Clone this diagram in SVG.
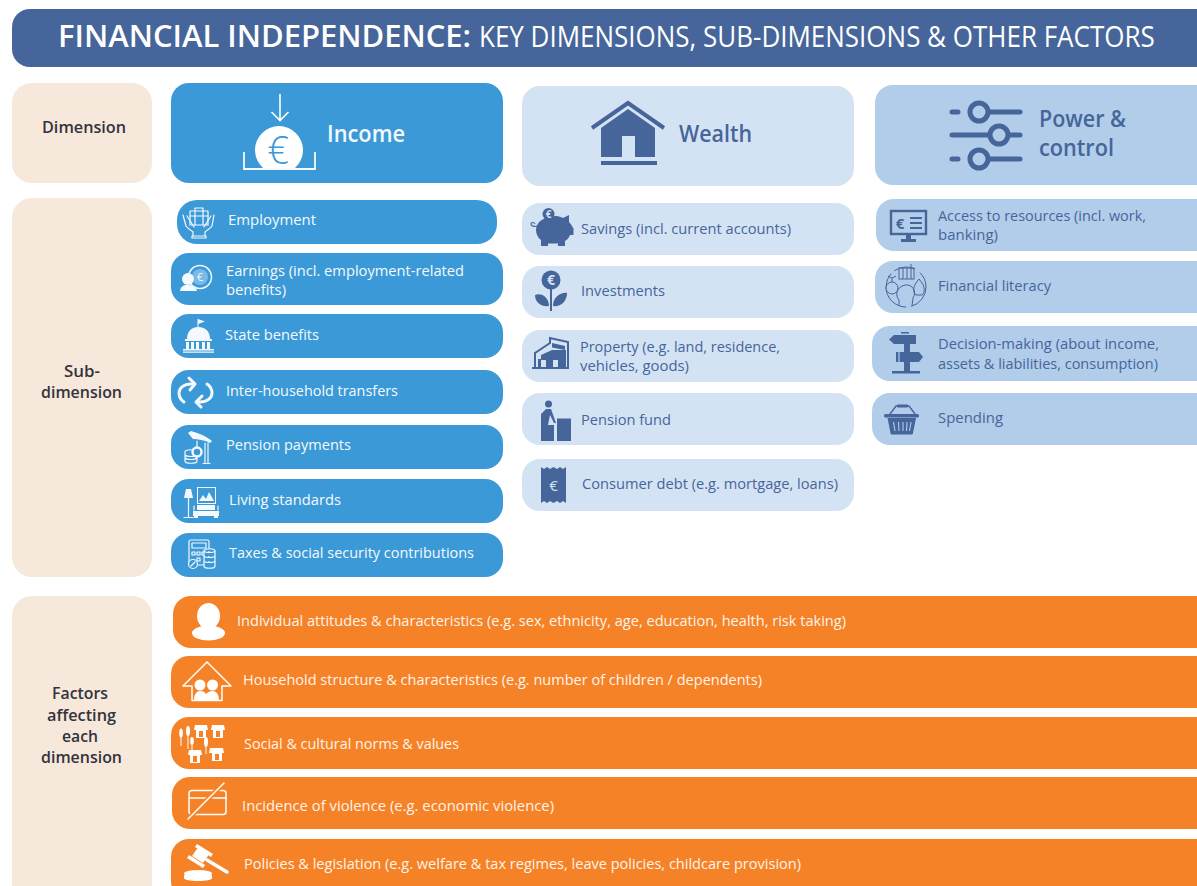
<svg xmlns="http://www.w3.org/2000/svg" width="1197" height="886" viewBox="0 0 1197 886">
<style>
text{font-family:"Open Sans","Noto Sans","Liberation Sans",sans-serif}
.b{font-size:14.5px;font-weight:500}
.w{fill:#f4f9fd}
.d{fill:#46659a}
.k{fill:#33333d;font-size:15.5px;font-weight:600}
.h{font-size:22.5px;font-weight:600}
.o{fill:#fff4ea;font-size:14.5px;font-weight:500}
.inc{fill:#3b99d7}.wea{fill:#d4e3f4}.pow{fill:#b1cdea}.bei{fill:#f6e8da}.org{fill:#f58227}
.sw{fill:none;stroke:#f4f9fd;stroke-width:1.200;stroke-linecap:round;stroke-linejoin:round}
.sf{fill:#f4f9fd;stroke:none}
.df{fill:#46659a;stroke:none}
.ow{fill:none;stroke:#fff;stroke-width:1.500;stroke-linejoin:round;stroke-linecap:round}
.of{fill:#fff;stroke:none}
</style>
<rect width="1197" height="886" fill="#fff"/>
<g id="title">
<rect x="12" y="9" width="1225" height="58" rx="18" fill="#46659a"/>
<text transform="translate(58 47) scale(.9 1)" fill="#fff" font-size="30px" font-weight="600" textLength="459" lengthAdjust="spacingAndGlyphs">FINANCIAL INDEPENDENCE:</text>
<text transform="translate(479 47) scale(.82 1)" fill="#fff" font-size="29px" textLength="824" lengthAdjust="spacingAndGlyphs">KEY DIMENSIONS, SUB-DIMENSIONS &amp; OTHER FACTORS</text>
</g>
<g id="row-dimension"><rect class="bei" x="12" y="83" width="140" height="100" rx="20"/><text class="k" x="42" y="133" textLength="84" lengthAdjust="spacingAndGlyphs">Dimension</text></g>
<g id="row-subdimension"><rect class="bei" x="12" y="198" width="140" height="379" rx="20"/><text class="k" x="64" y="377" textLength="36" lengthAdjust="spacingAndGlyphs">Sub-</text><text class="k" x="41" y="398" textLength="81" lengthAdjust="spacingAndGlyphs">dimension</text></g>
<g id="row-factors"><rect class="bei" x="12" y="596" width="140" height="310" rx="20"/><text class="k" x="52" y="699" textLength="56" lengthAdjust="spacingAndGlyphs">Factors</text><text class="k" x="47" y="721" textLength="69" lengthAdjust="spacingAndGlyphs">affecting</text><text class="k" x="62" y="742" textLength="36" lengthAdjust="spacingAndGlyphs">each</text><text class="k" x="41" y="763" textLength="81" lengthAdjust="spacingAndGlyphs">dimension</text></g>

<g id="income"><rect class="inc" x="171" y="83" width="332" height="100" rx="18"/>
<path d="M280 94V120M271.500 112L280 120.500L288.500 112" fill="none" stroke="#fff" stroke-width="1.600"/>
<path d="M263 168A24 24 0 1 1 295 168Z" fill="#fff"/>
<text x="278" y="164" fill="#3b99d7" font-size="38px" font-weight="300" text-anchor="middle">€</text>
<path d="M244 152V169H315V152" fill="none" stroke="#f4f9fd" stroke-width="1.800"/>
<text class="w h" x="327" y="142" textLength="78" lengthAdjust="spacingAndGlyphs">Income</text></g>

<g id="employment"><rect class="inc" x="177" y="200" width="320" height="44" rx="20"/>
<g class="sw"><rect x="190" y="211" width="18" height="14"/><path d="M195 211V208H203V211M190 216H208M195 211V225M203 211V225"/><path d="M183 215L186 226C188 229 191 230 193 232V236M214 215L212 226C210 229 207 230 205 232V236M187 216L194 227M211 216L204 227M192 236H206V238H192Z"/></g>
<text class="w b" x="228" y="225" textLength="88" lengthAdjust="spacingAndGlyphs">Employment</text></g>

<g id="earnings"><rect class="inc" x="171" y="253" width="332" height="52" rx="18"/>
<circle cx="200" cy="277" r="11.500" fill="none" stroke="#f4f9fd" stroke-width="1.500"/><circle cx="200" cy="277" r="8" fill="#f4f9fd" fill-opacity=".35"/>
<text x="200" y="281" fill="#f4f9fd" font-size="11px" text-anchor="middle">€</text>
<circle cx="188" cy="279" r="6" class="sf"/><path d="M180 291C181 285 185 285 188 285C192 285 196 286 197 291Z" class="sf"/>
<text class="w b" x="226" y="276" textLength="238" lengthAdjust="spacingAndGlyphs">Earnings (incl. employment-related</text>
<text class="w b" x="226" y="295" textLength="60" lengthAdjust="spacingAndGlyphs">benefits)</text></g>

<g id="state-benefits"><rect class="inc" x="171" y="314" width="332" height="44" rx="18"/>
<path d="M198 319V328" stroke="#f4f9fd" stroke-width="1"/><path d="M198 319L205 321.500L198 324Z" class="sf"/>
<path d="M187 339C187 331 192 327 198 327C205 327 210 331 210 339Z" class="sf"/>
<path d="M185 339H212V341H185ZM186 342H189V349H186ZM191 342H194V349H191ZM196 342H199V349H196ZM202 342H205V349H202ZM207 342H210V349H207ZM183 349H214V350.500H183ZM183 351.500H214V352.800H183Z" class="sf"/>
<text class="w b" x="225" y="340" textLength="94" lengthAdjust="spacingAndGlyphs">State benefits</text></g>

<g id="inter-household"><rect class="inc" x="171" y="370" width="332" height="44" rx="18"/>
<g fill="none" stroke="#f4f9fd" stroke-width="3" stroke-linecap="round" stroke-linejoin="round"><path d="M194 384H191C184 384 179 388 179 393C179 397 181 400 184 402"/><path d="M189 378L195 384L190 390"/><path d="M197 402H200C207 402 212 398 212 393C212 389 210 386 207 384"/><path d="M202 396L196 402L201 407"/></g>
<text class="w b" x="226" y="395.500" textLength="172" lengthAdjust="spacingAndGlyphs">Inter-household transfers</text></g>

<g id="pension-payments"><rect class="inc" x="171" y="425" width="332" height="44" rx="18"/>
<path d="M188 433L191 431C197 433 205 435 212 441L210 443C204 440 198 439 193 439Z" class="sf"/>
<g class="sw"><path d="M205 443V463M208 443V463M203 463.500H210"/><path d="M185 452C185 449 197 449 197 452V461C197 464 185 464 185 461ZM185 455C187 457 195 457 197 455M185 458C187 460 195 460 197 458"/><circle cx="197" cy="452" r="4.500" stroke-width="2.400" fill="#3b99d7"/><path d="M197 441V447"/></g>
<text class="w b" x="226" y="450" textLength="125" lengthAdjust="spacingAndGlyphs">Pension payments</text></g>

<g id="living-standards"><rect class="inc" x="171" y="479" width="332" height="44" rx="18"/>
<path d="M186 489H191L193 498H184Z" class="sf"/><path d="M188.500 498V517M184 517.500H193" class="sw"/>
<rect x="197.500" y="487.500" width="18" height="16" fill="none" stroke="#f4f9fd" stroke-width="1"/><path d="M199 501L203 495L206 499L209 492L214 501Z" class="sf"/>
<path d="M197 505H215V510H197ZM193 511H219V516H193ZM194 516H198V518H194ZM214 516H218V518H214Z" class="sf"/><path d="M194 510V506M218 510V506" class="sw"/>
<text class="w b" x="229" y="505" textLength="112" lengthAdjust="spacingAndGlyphs">Living standards</text></g>

<g id="taxes"><rect class="inc" x="171" y="533" width="332" height="44" rx="18"/>
<g class="sw" stroke-width="1"><rect x="189" y="540" width="20" height="25" rx="1.500"/><rect x="192" y="543" width="14" height="5"/><path d="M192 552H195V555H192ZM197 552H200V555H197ZM202 552H205V555H202ZM197 558H200V561H197Z"/><circle cx="193" cy="564" r="4.500" fill="#3b99d7"/><path d="M191 566L195 562"/><path d="M204 551C204 548 215 548 215 551V566C215 569 204 569 204 566ZM204 551C205 553 214 553 215 551M204 556C205 558 214 558 215 556M204 561C205 563 214 563 215 561" fill="#3b99d7"/></g>
<text class="w b" x="229" y="558" textLength="245" lengthAdjust="spacingAndGlyphs">Taxes &amp; social security contributions</text></g>

<g id="wealth"><rect class="wea" x="522" y="86" width="332" height="100" rx="18"/>
<path d="M592 128L628 103L664 128" fill="none" stroke="#46659a" stroke-width="4"/>
<path fill-rule="evenodd" d="M601 128L628 109L655 128V157H635V136H622V157H601Z" class="df"/>
<rect x="601" y="161" width="56" height="4" class="df"/>
<text class="d h" x="679" y="142" textLength="73" lengthAdjust="spacingAndGlyphs">Wealth</text></g>

<g id="savings"><rect class="wea" x="522" y="203" width="332" height="52" rx="18"/>
<path d="M536 230C536 221 546 216 556 216C559 216 561 217 563 218L569 215V222C571 224 572 226 573 228H573.500V235H570C569 238 567 240 565 241V246H558V243.500H548V246H541V240C538 238 536 234 536 230Z" class="df"/>
<circle cx="548.500" cy="214" r="6" class="df"/><text x="548.500" y="218" fill="#d4e3f4" font-size="10px" font-weight="700" text-anchor="middle">€</text>
<path d="M537 226C534 227 531 226 531 224C531 222 534 222 535 224" fill="none" stroke="#46659a" stroke-width="1.200"/>
<text class="d b" x="581" y="233.500" textLength="210" lengthAdjust="spacingAndGlyphs">Savings (incl. current accounts)</text></g>

<g id="investments"><rect class="wea" x="522" y="266" width="332" height="52" rx="18"/>
<circle cx="551" cy="280" r="9.500" class="df"/><text x="551" y="285" fill="#d4e3f4" font-size="14px" font-weight="700" text-anchor="middle">€</text>
<path d="M551 289V311" stroke="#46659a" stroke-width="2"/>
<path d="M535 295C541 292 549 297 549 306C542 307 535 303 535 295ZM567 293C561 292 553 297 553 306C560 307 567 302 567 293Z" class="df"/>
<text class="d b" x="581" y="296" textLength="84" lengthAdjust="spacingAndGlyphs">Investments</text></g>

<g id="property"><rect class="wea" x="522" y="330" width="332" height="52" rx="18"/>
<path d="M532 368H569M535 368V353L550 343V338L568 342V368" fill="none" stroke="#46659a" stroke-width="2"/>
<path d="M552 343L565 346V350L552 347.500Z" class="df"/>
<path d="M538 359H541V355L552 350H566V367H558V360H553V367H546V360H541V367H538Z" class="df"/>
<text class="d b" x="580" y="352" textLength="200" lengthAdjust="spacingAndGlyphs">Property (e.g. land, residence,</text>
<text class="d b" x="580" y="371" textLength="109" lengthAdjust="spacingAndGlyphs">vehicles, goods)</text></g>

<g id="pension-fund"><rect class="wea" x="522" y="393" width="332" height="52" rx="18"/>
<circle cx="548.500" cy="404" r="3.500" class="df"/>
<path d="M541 441V414L546 409H551L556 423H554L550 415L548 425H554V441Z" class="df"/>
<rect x="557" y="418.500" width="14" height="22.500" class="df"/>
<text class="d b" x="581" y="424.500" textLength="90" lengthAdjust="spacingAndGlyphs">Pension fund</text></g>

<g id="consumer-debt"><rect class="wea" x="522" y="459" width="332" height="52" rx="18"/>
<path d="M541 467L544 469L547 467L550 469L553.500 467L557 469L560 467L563 469L566 467V503L563 501L560 503L557 501L553.500 503L550 501L547 503L544 501L541 503Z" class="df"/>
<text x="553.500" y="491" fill="#d4e3f4" font-size="15px" text-anchor="middle">€</text>
<text class="d b" x="582" y="488.500" textLength="256" lengthAdjust="spacingAndGlyphs">Consumer debt (e.g. mortgage, loans)</text></g>

<g id="power"><rect class="pow" x="875" y="85" width="350" height="100" rx="18"/>
<g fill="none" stroke="#46659a" stroke-width="5" stroke-linecap="round"><path d="M952 112H958M990 112H1020M952 135H1020M952 159H958M990 159H1020"/></g>
<g fill="#b1cdea" stroke="#46659a" stroke-width="5"><circle cx="979" cy="112" r="9"/><circle cx="999" cy="135" r="9"/><circle cx="979" cy="159" r="9"/></g>
<text class="d h" x="1039" y="127" textLength="87" lengthAdjust="spacingAndGlyphs">Power &amp;</text>
<text class="d h" x="1039" y="156" textLength="75" lengthAdjust="spacingAndGlyphs">control</text></g>

<g id="access"><rect class="pow" x="876" y="199" width="350" height="52" rx="18"/>
<rect x="891" y="211" width="35" height="23" fill="none" stroke="#46659a" stroke-width="2.400"/>
<path d="M906 235H911V239H916V242H901V239H906Z" class="df"/>
<text x="900" y="228.500" fill="#46659a" font-size="15px" font-weight="700" text-anchor="middle">€</text>
<path d="M910 218H922M910 223H922M910 228H922" stroke="#46659a" stroke-width="1.800"/>
<text class="d b" x="938" y="221" textLength="208" lengthAdjust="spacingAndGlyphs">Access to resources (incl. work,</text>
<text class="d b" x="938" y="240" textLength="60" lengthAdjust="spacingAndGlyphs">banking)</text></g>

<g id="financial-literacy"><rect class="pow" x="875" y="261" width="350" height="52" rx="18"/>
<g fill="none" stroke="#46659a" stroke-width="1"><circle cx="906" cy="287" r="20" stroke-dasharray="26 5 46 4 22 6 20"/><rect x="899" y="268" width="15" height="11"/><path d="M903 268V279M907 268V279M911 264V279"/><circle cx="892" cy="288" r="6" fill="#b1cdea"/><path d="M892 282V278L888 276M892 278L896 276"/><path d="M916 283L919 279L922 283C925 287 925 293 922 295H916C913 293 913 287 916 283Z" fill="#b1cdea"/><path d="M899 306V300C895 296 896 287 905 285C913 284 917 292 913 298L912 306"/></g>
<text class="d b" x="938" y="291" textLength="113" lengthAdjust="spacingAndGlyphs">Financial literacy</text></g>

<g id="decision-making"><rect class="pow" x="872" y="326" width="350" height="55" rx="18"/>
<path d="M901 332H909V333.500H901ZM894 335H916V344H894L889 339.500ZM904 344H910V352H919L923 357L919 362H910V371H920V373.500H892V371H904V362H896V352H904Z" class="df"/>
<path d="M899 352V362" stroke="#b1cdea" stroke-width="1.200"/>
<text class="d b" x="938" y="349" textLength="221" lengthAdjust="spacingAndGlyphs">Decision-making (about income,</text>
<text class="d b" x="938" y="369" textLength="220" lengthAdjust="spacingAndGlyphs">assets &amp; liabilities, consumption)</text></g>

<g id="spending"><rect class="pow" x="872" y="393" width="350" height="52" rx="18"/>
<path d="M890 414L896 406H909L915 414" fill="none" stroke="#46659a" stroke-width="1.400"/><rect x="897" y="404.500" width="11" height="3" rx="1" class="df"/>
<rect x="884" y="414" width="35" height="3.500" rx="1.500" class="df"/>
<path d="M887.500 418H916L913 433C913 434 912 434.500 911 434.500H892C891 434.500 890.500 434 890.500 433Z" class="df"/>
<path d="M893.500 422L895 431M898.500 422L899 431M903 422V431M907 422L906.500 431M911 422L909.500 431" stroke="#b1cdea" stroke-width="1.100"/>
<text class="d b" x="938" y="422.500" textLength="65" lengthAdjust="spacingAndGlyphs">Spending</text></g>

<g id="individual"><rect class="org" x="173" y="596" width="1054" height="52" rx="18"/>
<ellipse cx="208.500" cy="616" rx="11.500" ry="13" class="of"/><ellipse cx="208.500" cy="633" rx="16.500" ry="7.500" class="of"/>
<text class="o" x="237" y="625.500" textLength="609" lengthAdjust="spacingAndGlyphs">Individual attitudes &amp; characteristics (e.g. sex, ethnicity, age, education, health, risk taking)</text></g>

<g id="household"><rect class="org" x="171" y="656" width="1056" height="52" rx="18"/>
<path d="M207 662L183 686H192V700.500H222V686H231Z" class="ow"/>
<circle cx="200" cy="685" r="5.500" class="of"/><circle cx="212.500" cy="685" r="5.500" class="of"/>
<path d="M194 700C194 694 197 691 200 691C203 691 205 692 206 694C208 692 210 691 212.500 691C216 691 219 694 219 700Z" class="of"/>
<text class="o" x="243" y="685" textLength="519" lengthAdjust="spacingAndGlyphs">Household structure &amp; characteristics (e.g. number of children / dependents)</text></g>

<g id="social"><rect class="org" x="171" y="717" width="1056" height="52" rx="18"/>
<g class="of"><path fill-rule="evenodd" d="M195 725H207L208 730H206V738H196V730H194ZM199 731V737H203V731Z"/><path fill-rule="evenodd" d="M212 725H224L225 730H223V738H213V730H211ZM216 731V737H220V731Z"/><path fill-rule="evenodd" d="M189 750H201L202 755H200V763H190V755H188ZM193 756V762H197V756Z"/><path fill-rule="evenodd" d="M210 748H223L224 753H222V761H212V753H209ZM215 754V760H219V754Z"/><ellipse cx="188" cy="731" rx="2" ry="5"/><ellipse cx="206" cy="742" rx="2" ry="5"/><ellipse cx="181" cy="733" rx="1.800" ry="4.500"/><ellipse cx="192" cy="741" rx="1.800" ry="4"/></g>
<path d="M188 736V749M206 747V754M181 737V746M192 745V750" stroke="#fff" stroke-width="1"/>
<text class="o" x="244" y="749" textLength="215" lengthAdjust="spacingAndGlyphs">Social &amp; cultural norms &amp; values</text></g>

<g id="violence"><rect class="org" x="172" y="777" width="1055" height="52" rx="18"/>
<rect x="189" y="790.500" width="37" height="24" rx="3" class="ow"/><path d="M189 798H226" class="ow"/>
<path d="M188 819L224 783" stroke="#f58227" stroke-width="5"/><path d="M188 819L224 783" class="ow"/>
<text class="o" x="242" y="811" textLength="312" lengthAdjust="spacingAndGlyphs">Incidence of violence (e.g. economic violence)</text></g>

<g id="policies"><rect class="org" x="171" y="839" width="1056" height="60" rx="18"/>
<path d="M199 846L210 853L203 863L192 856Z" class="of"/><path d="M197 844L213 854L211 857L195 847ZM189 855L205 865L203 868L187 858Z" class="of" stroke="#f58227" stroke-width=".5"/>
<path d="M207 860L227 872" stroke="#fff" stroke-width="3.500" stroke-linecap="round"/>
<ellipse cx="198" cy="873.500" rx="14" ry="3.500" class="of"/><path d="M184 875H212V878C212 880 206 881 198 881C190 881 184 880 184 878Z" class="of"/>
<text class="o" x="244" y="868.500" textLength="557" lengthAdjust="spacingAndGlyphs">Policies &amp; legislation (e.g. welfare &amp; tax regimes, leave policies, childcare provision)</text></g>
</svg>
